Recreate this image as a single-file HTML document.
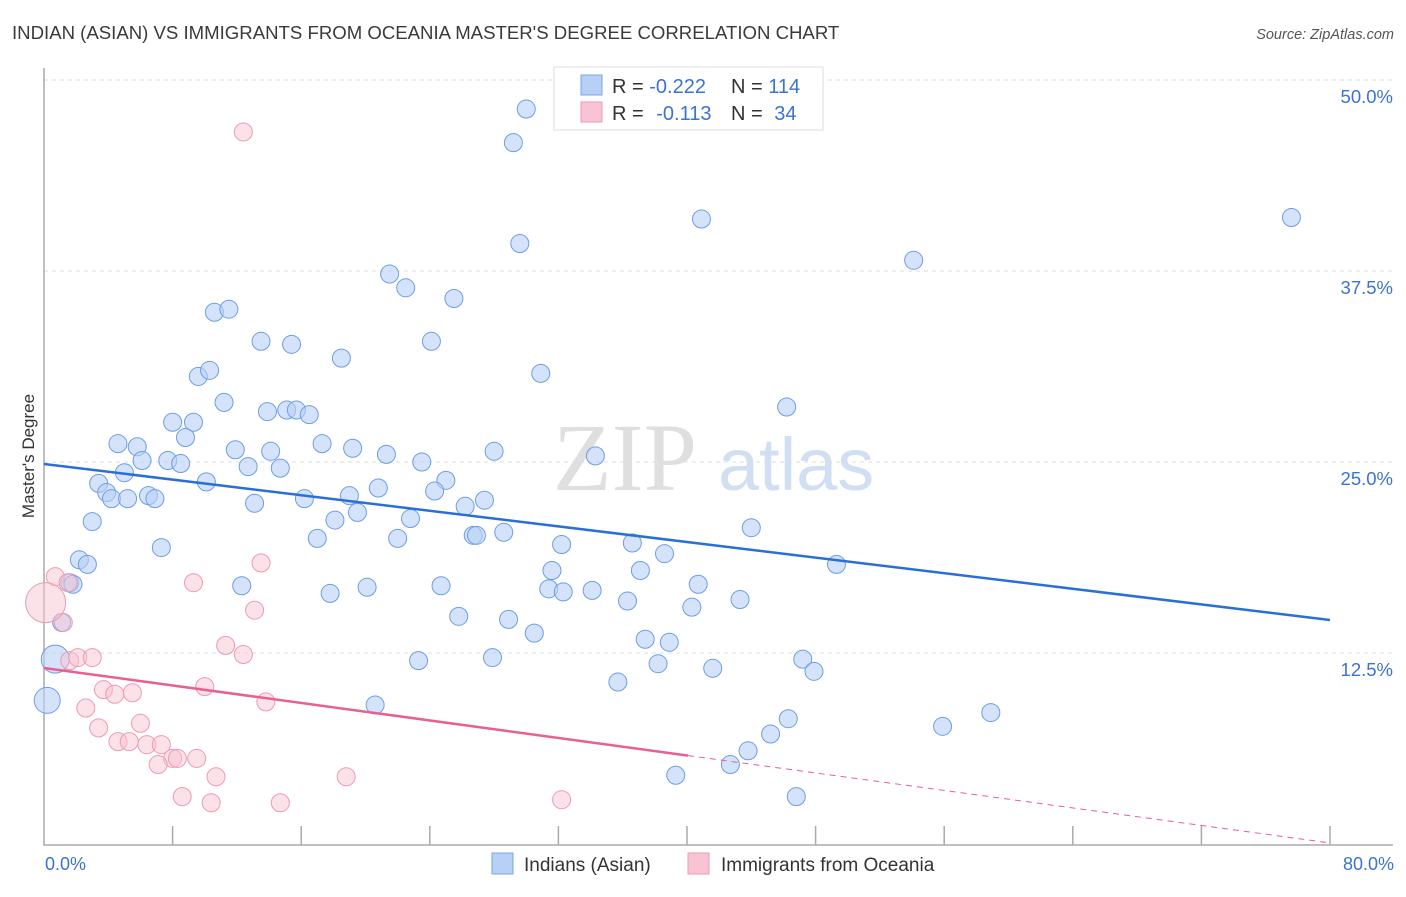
<!DOCTYPE html>
<html><head><meta charset="utf-8"><style>
body{margin:0;background:#fff;font-family:"Liberation Sans",sans-serif;}
</style></head><body>
<svg id="chart" width="1406" height="892" viewBox="0 0 1406 892" xmlns="http://www.w3.org/2000/svg" font-family="Liberation Sans, sans-serif">
<text x="12" y="39" font-size="18.6" fill="#3a3a3a">INDIAN (ASIAN) VS IMMIGRANTS FROM OCEANIA MASTER'S DEGREE CORRELATION CHART</text>
<text x="1394" y="39" font-size="14.5" fill="#555" font-style="italic" text-anchor="end">Source: ZipAtlas.com</text>
<g>
<text x="553" y="490" font-size="96" font-family="Liberation Serif, serif" fill="#d8d8d8" opacity="0.8">ZIP</text>
<text x="718" y="490" font-size="74" fill="#c5d8f0" opacity="0.8">atlas</text>
</g>
<g id="grid"></g>
<g id="axes"></g>
<g id="pts"></g>
<g id="trends"></g>
<text transform="translate(34,456) rotate(-90)" font-size="17" fill="#333" text-anchor="middle">Master's Degree</text>
<text x="45" y="870" font-size="18" fill="#3b73d1">0.0%</text>
<text x="1394" y="870" font-size="18" fill="#3b73d1" text-anchor="end">80.0%</text>
<g>
<rect x="554" y="67" width="269" height="63" fill="#fff" stroke="#ddd"/>
<rect x="581" y="75" width="21" height="20" fill="#b7d0f5" stroke="#7aa6e8"/>
<rect x="581" y="102" width="21" height="20" fill="#f8c3d2" stroke="#ee9ab4"/>
<text x="612" y="93" font-size="20" fill="#333">R = <tspan fill="#3b73d1">-0.222</tspan></text>
<text x="731" y="93" font-size="20" fill="#333">N = <tspan fill="#3b73d1">114</tspan></text>
<text x="612" y="120" font-size="20" fill="#333">R = <tspan fill="#3b73d1" dx="7">-0.113</tspan></text>
<text x="731" y="120" font-size="20" fill="#333">N = <tspan fill="#3b73d1" dx="6">34</tspan></text>
</g>
<g>
<rect x="492" y="853" width="21" height="21" fill="#b7d0f5" stroke="#7aa6e8"/>
<text x="524" y="871" font-size="19" fill="#333">Indians (Asian)</text>
</g>
<g>
<rect x="688" y="853" width="21" height="21" fill="#f8c3d2" stroke="#ee9ab4"/>
<text x="721" y="871" font-size="19" fill="#333">Immigrants from Oceania</text>
</g>
</svg>
<script>
const blueX=[30.0,29.2,29.6,40.9,77.6,54.1,21.5,22.5,25.5,10.6,11.5,13.5,15.4,24.1,18.5,30.9,9.6,10.3,11.2,13.9,15.1,15.7,16.5,46.2,8.0,9.3,8.8,4.6,5.8,6.1,7.7,8.5,11.9,14.1,17.3,19.2,21.3,23.5,28.0,34.3,5.0,3.4,3.9,4.2,5.2,6.5,6.9,10.1,12.7,14.7,13.1,16.2,19.0,20.8,25.0,24.3,27.4,19.5,18.1,22.8,26.2,26.7,26.9,28.6,3.0,17.0,22.0,32.2,36.6,38.6,44.0,49.3,7.3,2.2,2.7,1.6,1.8,12.3,17.8,20.1,24.7,31.6,37.1,31.4,32.3,34.1,40.7,36.3,43.3,40.3,25.8,28.9,1.1,30.5,37.4,38.9,23.3,27.9,38.2,41.6,47.2,47.9,35.7,20.6,58.9,55.9,46.3,45.2,43.8,42.7,39.3,46.8,0.7,0.2];
const blueY=[48.1,45.9,39.3,40.9,41.0,38.2,37.3,36.4,35.7,34.8,35.0,32.9,32.7,32.9,31.8,30.8,30.6,31.0,28.9,28.3,28.4,28.4,28.1,28.6,27.6,27.6,26.6,26.2,26.0,25.1,25.1,24.9,25.8,25.7,26.2,25.9,25.5,25.0,25.7,25.4,24.3,23.6,23.0,22.6,22.6,22.8,22.6,23.7,24.7,24.6,22.3,22.6,22.8,23.3,23.8,23.1,22.5,21.7,21.2,21.3,22.1,20.2,20.2,20.4,21.1,20.0,20.0,19.6,19.7,19.0,20.7,18.3,19.4,18.6,18.3,17.1,17.0,16.9,16.4,16.8,16.9,17.9,17.9,16.7,16.5,16.6,17.0,15.9,16.0,15.5,14.9,14.7,14.5,13.8,13.4,13.2,12.0,12.2,11.8,11.5,12.1,11.3,10.6,9.1,8.6,7.7,8.2,7.2,6.1,5.2,4.5,3.1,12.1,9.4];
const blueR=[9,9,9,9,9,9,9,9,9,9,9,9,9,9,9,9,9,9,9,9,9,9,9,9,9,9,9,9,9,9,9,9,9,9,9,9,9,9,9,9,9,9,9,9,9,9,9,9,9,9,9,9,9,9,9,9,9,9,9,9,9,9,9,9,9,9,9,9,9,9,9,9,9,9,9,9,9,9,9,9,9,9,9,9,9,9,9,9,9,9,9,9,9,9,9,9,9,9,9,9,9,9,9,9,9,9,9,9,9,9,9,9,14,13];
const pinkX=[12.4,0.7,1.5,13.5,9.3,13.1,1.2,0.1,11.3,12.4,1.6,2.1,3.0,10.0,3.7,4.4,5.5,13.8,2.6,3.4,6.0,4.6,5.3,6.4,7.3,8.0,8.3,7.1,9.5,10.7,18.8,8.6,10.4,14.7,32.2];
const pinkY=[46.6,17.5,17.1,18.4,17.1,15.3,14.5,15.8,13.0,12.4,12.0,12.2,12.2,10.3,10.1,9.8,9.9,9.3,8.9,7.6,7.9,6.7,6.7,6.5,6.5,5.6,5.6,5.2,5.6,4.4,4.4,3.1,2.7,2.7,2.9];
const pinkR=[9,9,9,9,9,9,9,20,9,9,9,9,9,9,9,9,9,9,9,9,9,9,9,9,9,9,9,9,9,9,9,9,9,9,9];
const yTicks=[12.5,25.0,37.5,50.0];
const yTickLabels=["12.5%","25.0%","37.5%","50.0%"];
const xTicks=[0,8,16,24,32,40,48,56,64,72,80];
const blueTrend=[24.87,14.66];
const pinkTrend=[11.52,0.07];
const pinkSolidEnd=40.06;

const NS="http://www.w3.org/2000/svg";
const X0=44,X1=1330,Y0=844,PER=191/12.5;
function sx(v){return X0+v/80*(X1-X0);}
function sy(v){return Y0-v*PER;}
function mk(tag,attrs,parent){const e=document.createElementNS(NS,tag);for(const k in attrs)e.setAttribute(k,attrs[k]);parent.appendChild(e);return e;}
const grid=document.getElementById('grid'),axes=document.getElementById('axes'),pts=document.getElementById('pts'),tr=document.getElementById('trends');
yTicks.forEach((t,i)=>{
 const l=mk('line',{x1:X0,x2:1393,y1:sy(t),y2:sy(t),stroke:'#dcdcdc','stroke-dasharray':'4,4'},grid);
 
 
 const tx=mk('text',{x:1393,y:sy(t)+23,'font-size':18.5,fill:'#3b73d1','text-anchor':'end'},grid);
 tx.textContent=yTickLabels[i];
 
 
});
const ax=mk('path',{d:`M${X0},68 V${Y0+1} H1393`,stroke:'#aaa',fill:'none','stroke-width':1.5},axes);


xTicks.slice(1).forEach(t=>{
 const l=mk('line',{x1:sx(t),x2:sx(t),y1:Y0+1,y2:Y0-18,stroke:'#aaa','stroke-width':1.5},axes);
 
 
});
blueX.forEach((x,i)=>{
 const c=mk('circle',{cx:sx(x),cy:sy(blueY[i]),r:blueR[i],fill:'#b7d0f5','fill-opacity':0.6,stroke:'#6d9de6','stroke-width':1},pts);
 
 
});
pinkX.forEach((x,i)=>{
 const c=mk('circle',{cx:sx(x),cy:sy(pinkY[i]),r:pinkR[i],fill:'#f8c3d2','fill-opacity':0.5,stroke:'#ee9ab4','stroke-width':1},pts);
 
 
});
const bl=mk('line',{x1:sx(0),y1:sy(blueTrend[0]),x2:sx(80),y2:sy(blueTrend[1]),stroke:'#2a6fd6','stroke-width':2.5},tr);


const pm=pinkTrend[0]+(pinkTrend[1]-pinkTrend[0])*pinkSolidEnd/80;
const pl=mk('line',{x1:sx(0),y1:sy(pinkTrend[0]),x2:sx(pinkSolidEnd),y2:sy(pm),stroke:'#e8608e','stroke-width':2.5},tr);


const pd=mk('line',{x1:sx(pinkSolidEnd),y1:sy(pm),x2:sx(80),y2:sy(pinkTrend[1]),stroke:'#e8608e','stroke-width':1,'stroke-dasharray':'6,5'},tr);


</script>
</body></html>
